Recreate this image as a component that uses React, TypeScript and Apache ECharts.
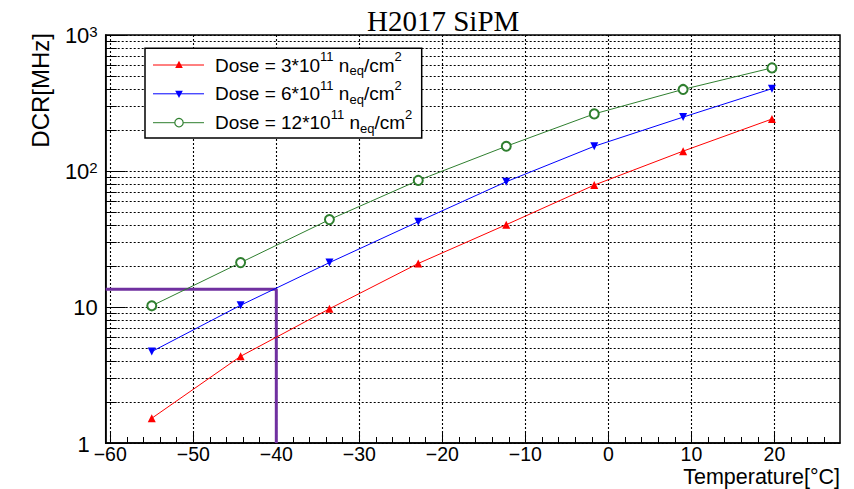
import React, { useEffect, useRef } from "react";
import * as echarts from "echarts";

// ---- data ----
const temperatures = [-55, -44.3, -33.6, -22.9, -12.3, -1.7, 9.0, 19.7];
const dcrDose3 = [1.52, 4.34, 9.7, 20.9, 40.3, 78.8, 140, 241];
const dcrDose6 = [4.7, 10.3, 21.2, 42.4, 83.4, 152, 249, 403];
const dcrDose12 = [10.2, 21.2, 43.9, 85.3, 152, 263, 398, 573];
const doseFactors = ["3", "6", "12"];
const seriesNames = [
  "Dose = 3*10^11 neq/cm^2",
  "Dose = 6*10^11 neq/cm^2",
  "Dose = 12*10^11 neq/cm^2",
];
const xMajorTicks = [-60, -50, -40, -30, -20, -10, 0, 10, 20];
const xMinorTicks = [
  -58, -56, -54, -52, -48, -46, -44, -42, -38, -36, -34, -32, -28, -26, -24, -22,
  -18, -16, -14, -12, -8, -6, -4, -2, 2, 4, 6, 8, 12, 14, 16, 18, 22, 24, 26,
];
const yMajorTicks = [1, 10, 100, 1000];
const yMinorTicks = [2, 3, 4, 5, 6, 7, 8, 9, 20, 30, 40, 50, 60, 70, 80, 90, 200, 300, 400, 500, 600, 700, 800, 900];
const markerTemperature = -40;
const markerDcr = 13.5;
const xRange = [-60.55, 27.9];
const yRange = [1, 1000];

const SANS = '"Liberation Sans", Arial, sans-serif';
const SERIF = '"Liberation Serif", "Times New Roman", serif';
const colors = ["#ff0000", "#0000ff", "#2f7f2f"];
const dotted = { color: "#000", width: 1.1, type: [2, 2] as any };

export default function App() {
  const ref = useRef<HTMLDivElement>(null);
  useEffect(() => {
    document.body.style.margin = "0";
    const chart = echarts.init(ref.current!, undefined, { renderer: "svg" });
    const dataSets = [dcrDose3, dcrDose6, dcrDose12];
    const symbols = [
      { symbol: "triangle", symbolRotate: 0, symbolSize: 8 },
      { symbol: "triangle", symbolRotate: 180, symbolSize: 8 },
      { symbol: "emptyCircle", symbolRotate: 0, symbolSize: 9 },
    ];
    const dataSeries = dataSets.map((vals, i) => ({
      type: "line",
      name: seriesNames[i],
      data: temperatures.map((t, j) => [t, vals[j]]),
      symbol: symbols[i].symbol,
      symbolRotate: symbols[i].symbolRotate,
      symbolSize: symbols[i].symbolSize,
      showAllSymbol: true,
      itemStyle: { color: colors[i], borderColor: colors[i], borderWidth: i === 2 ? 1.2 : 0 },
      lineStyle: { color: colors[i], width: 1 },
      z: 3,
    }));

    const legendRows = [65, 93.8, 122.7];
    const legendX0 = 145;
    const legendElems: any[] = [
      {
        type: "rect",
        shape: { x: legendX0, y: 48.3, width: 276.7, height: 89.7 },
        style: { fill: "#fff", stroke: "#000", lineWidth: 1.5 },
        z: 10,
      },
    ];
    legendRows.forEach((y, i) => {
      legendElems.push({
        type: "line",
        shape: { x1: 153, y1: y, x2: 204, y2: y },
        style: { stroke: colors[i], lineWidth: 1 },
        z: 11,
      });
      if (i === 0) {
        legendElems.push({
          type: "polygon",
          shape: { points: [[179, y - 4.3], [175.2, y + 3], [182.8, y + 3]] },
          style: { fill: colors[i] },
          z: 12,
        });
      } else if (i === 1) {
        legendElems.push({
          type: "polygon",
          shape: { points: [[179, y + 4.3], [175.2, y - 3], [182.8, y - 3]] },
          style: { fill: colors[i] },
          z: 12,
        });
      } else {
        legendElems.push({
          type: "circle",
          shape: { cx: 179, cy: y, r: 4.2 },
          style: { fill: "#fff", stroke: colors[i], lineWidth: 1.2 },
          z: 12,
        });
      }
      legendElems.push({
        type: "text",
        x: 215,
        y: y,
        z: 12,
        style: {
          text: `{n|Dose = ${doseFactors[i]}*10}{sup|11}{n| n}{sub|eq}{n|/cm}{sup|2}`,
          fill: "#000",
          font: `19px ${SANS}`,
          align: "left",
          verticalAlign: "middle",
          rich: {
            n: { fontSize: 19, lineHeight: 30, fontFamily: SANS, fill: "#000", verticalAlign: "middle" },
            sup: { fontSize: 13, lineHeight: 13, fontFamily: SANS, fill: "#000", verticalAlign: "top" },
            sub: { fontSize: 13, lineHeight: 13, fontFamily: SANS, fill: "#000", verticalAlign: "bottom", padding: [0, 0, 3, 0] },
          },
        },
      });
    });

    const option: any = {
      animation: false,
      backgroundColor: "#fff",
      title: {
        text: "H2017 SiPM",
        left: 367,
        top: 6,
        padding: 0,
        textStyle: { fontFamily: SERIF, fontSize: 29, fontWeight: "normal", color: "#000" },
      },
      grid: {
        left: 105.7,
        right: 14,
        top: 35,
        bottom: 46,
        show: true,
        borderColor: "#000",
        borderWidth: 1.5,
        outerBoundsMode: "none",
      },
      xAxis: [
        {
          type: "value",
          min: xRange[0],
          max: xRange[1],
          position: "bottom",
          axisLine: { show: true, onZero: false, lineStyle: { color: "#000", width: 1.5 } },
          axisTick: { show: true, inside: true, length: 12, customValues: xMajorTicks, lineStyle: { color: "#000", width: 1 } },
          axisLabel: {
            show: true,
            customValues: xMajorTicks,
            margin: 1,
            color: "#000",
            fontFamily: SANS,
            fontSize: 19.5,
            lineHeight: 20,
            formatter: (v: number) => (v < 0 ? "\u2212" + -v : String(v)),
          },
          splitLine: { show: true, lineStyle: dotted },
        },
        {
          type: "value",
          min: xRange[0],
          max: xRange[1],
          position: "bottom",
          axisLine: { show: false, onZero: false },
          axisTick: { show: true, inside: true, length: 6, customValues: xMinorTicks, lineStyle: { color: "#000", width: 1 } },
          axisLabel: { show: false },
          splitLine: { show: false },
        },
      ],
      yAxis: [
        {
          type: "log",
          logBase: 10,
          min: yRange[0],
          max: yRange[1],
          position: "left",
          axisLine: { show: true, onZero: false, lineStyle: { color: "#000", width: 1.5 } },
          axisTick: { show: true, inside: true, length: 20, customValues: yMajorTicks, lineStyle: { color: "#000", width: 1 } },
          axisLabel: {
            show: true,
            customValues: yMajorTicks,
            margin: 8,
            formatter: (v: number) => {
              const e = Math.round(Math.log10(v));
              if (e === 0) return "{one|1}";
              if (e === 1) return "{b|10}";
              return `{b|10}{s|${e}}`;
            },
            rich: {
              b: { fontSize: 22, lineHeight: 22, fontFamily: SANS, color: "#000", verticalAlign: "bottom", padding: [5, 0, 0, 0] },
              one: { fontSize: 22, lineHeight: 22, fontFamily: SANS, color: "#000", padding: [3, 8, 0, 0] },
              s: { fontSize: 15, lineHeight: 15, fontFamily: SANS, color: "#000", verticalAlign: "top" },
            },
          },
          splitLine: { show: true, lineStyle: dotted },
        },
        {
          type: "log",
          logBase: 10,
          min: yRange[0],
          max: yRange[1],
          position: "left",
          axisLine: { show: false, onZero: false },
          axisTick: { show: true, inside: true, length: 11, customValues: yMinorTicks, lineStyle: { color: "#000", width: 1 } },
          axisLabel: { show: false },
          splitLine: { show: true, lineStyle: dotted },
        },
      ],
      series: [
        {
          type: "line",
          name: "marker",
          data: [
            [xRange[0], markerDcr],
            [markerTemperature, markerDcr],
            [markerTemperature, yRange[0]],
          ],
          symbol: "none",
          silent: true,
          lineStyle: { color: "#7030a0", width: 3 },
          z: 2,
        },
        ...dataSeries,
      ],
      graphic: [
        {
          type: "text",
          x: 840,
          y: 476.5,
          style: { text: "Temperature[°C]", font: `21.5px ${SANS}`, fill: "#000", align: "right", verticalAlign: "middle" },
        },
        {
          type: "text",
          x: 40,
          y: 33,
          rotation: Math.PI / 2,
          style: { text: "DCR[MHz]", font: `24px ${SANS}`, fill: "#000", align: "right", verticalAlign: "middle" },
        },
        ...legendElems,
      ],
    };
    chart.setOption(option);
    return () => chart.dispose();
  }, []);
  return <div ref={ref} style={{ position: "absolute", left: 0, top: 0, width: 854, height: 489 }} />;
}
